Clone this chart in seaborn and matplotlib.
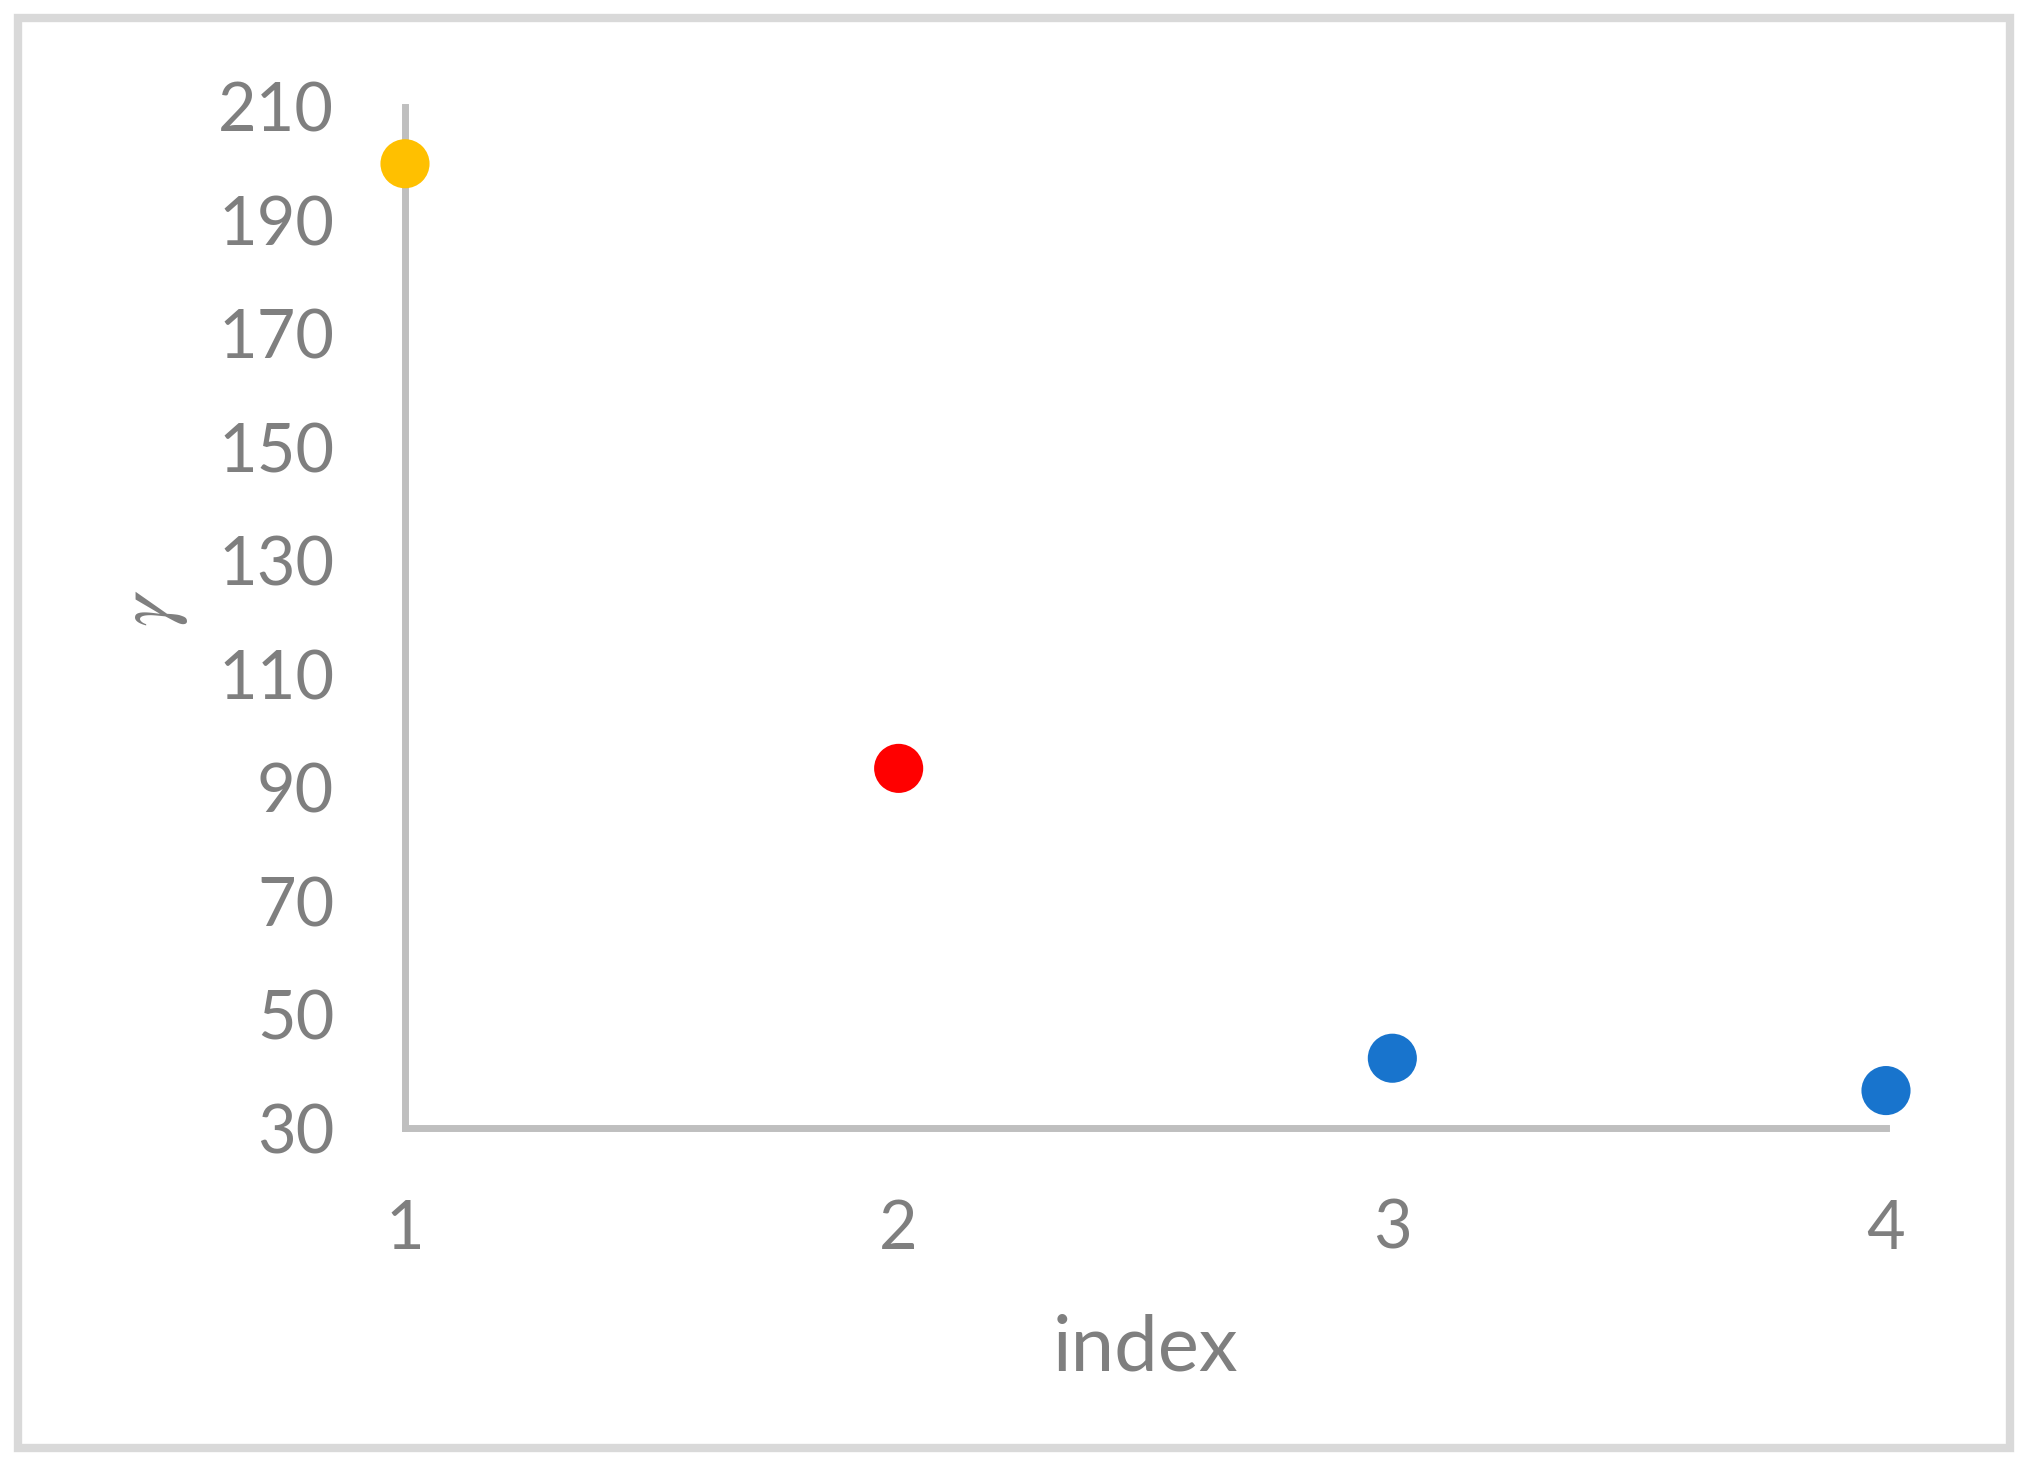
import matplotlib
matplotlib.use("Agg")
import matplotlib.pyplot as plt
import pandas as pd
import seaborn as sns
from matplotlib.patches import Rectangle

# ─── Data ─────────────────────────────────────────────────────────────────────
index_vals = [1, 2, 3, 4]
gamma_vals = [200.0, 93.4, 42.3, 36.6]
groups     = ["a", "b", "c", "c"]
palette    = {"a": "#FFC000", "b": "#FF0000", "c": "#1874CD"}
y_ticks    = [30, 50, 70, 90, 110, 130, 150, 170, 190, 210]
x_ticks    = [1, 2, 3, 4]

GRAY_TXT   = "#7F7F7F"
GRAY_AXIS  = "#BFBFBF"

sns.set_style("white")
plt.rcParams["font.family"] = ["Lato", "DejaVu Sans"]
plt.rcParams["mathtext.fontset"] = "stix"

df = pd.DataFrame({"index": index_vals, "gamma": gamma_vals, "grp": groups})

fig = plt.figure(figsize=(20.28, 14.66), dpi=100)
ax = fig.add_axes([405 / 2028, 1 - 1128 / 1466,
                   (1886 - 405) / 2028, (1128 - 107) / 1466])

sns.scatterplot(data=df, x="index", y="gamma", hue="grp", palette=palette,
                s=1250, linewidth=0, legend=False, ax=ax, clip_on=False,
                zorder=5)

ax.set_xlim(1, 4)
ax.set_ylim(30, 210)
ax.set_xticks(x_ticks)
ax.set_yticks(y_ticks)
ax.tick_params(axis="both", length=0, labelsize=48, labelcolor=GRAY_TXT)
ax.tick_params(axis="x", pad=51)
ax.tick_params(axis="y", pad=51)

for side in ["top", "right"]:
    ax.spines[side].set_visible(False)
for side in ["left", "bottom"]:
    ax.spines[side].set_color(GRAY_AXIS)
    ax.spines[side].set_linewidth(5)

ax.set_xlabel("index", fontsize=56, color=GRAY_TXT, va="center")
ax.xaxis.set_label_coords(0.5, -0.216)
ax.set_ylabel(r"$\gamma$", fontsize=58, color=GRAY_TXT, va="center")
ax.yaxis.set_label_coords(-0.170, 0.509)

# outer chart border
fig.patches.append(Rectangle((18 / 2028, 18 / 1466), 1 - 36 / 2028, 1 - 36 / 1466,
                             transform=fig.transFigure, fill=False,
                             edgecolor="#D9D9D9", linewidth=6))

fig.savefig("out.png", dpi=100, facecolor="white")
